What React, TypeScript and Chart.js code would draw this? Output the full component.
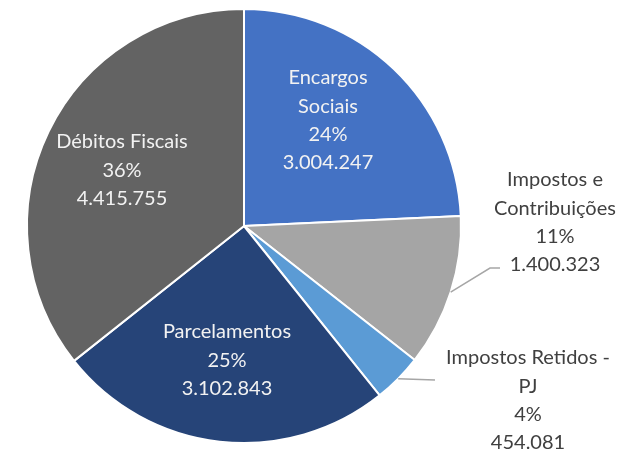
import React, { useEffect, useRef } from "react";
import { Chart, registerables } from "chart.js";

Chart.register(...registerables);

const categories = [
  "Encargos Sociais",
  "Impostos e Contribuições",
  "Impostos Retidos - PJ",
  "Parcelamentos",
  "Débitos Fiscais",
];
const labelLines = [
  ["Encargos", "Sociais"],
  ["Impostos e", "Contribuições"],
  ["Impostos Retidos -", "PJ"],
  ["Parcelamentos"],
  ["Débitos Fiscais"],
];
const values = [3004247, 1400323, 454081, 3102843, 4415755];
const colors = ["#4472C4", "#A5A5A5", "#5B9BD5", "#264478", "#636363"];

// label layout (style): offset of first line relative to pie center, outside flag
const labelPos = [
  { dx: 84, dy: -148, outside: false },
  { dx: 311, dy: -46, outside: true },
  { dx: 284, dy: 132, outside: true },
  { dx: -17, dy: 106, outside: false },
  { dx: -122, dy: -84, outside: false },
];
const leaderEnds: ({ x: number; y: number }[] | null)[] = [
  null,
  [{ x: 246, y: 42 }, { x: 256, y: 42 }],
  [{ x: 191, y: 154 }],
  null,
  null,
];

const fmt = (v: number) => v.toString().replace(/\B(?=(\d{3})+(?!\d))/g, ".");

const labelPlugin = {
  id: "pieLabels",
  afterDatasetsDraw(chart: any) {
    const ctx = chart.ctx;
    const meta = chart.getDatasetMeta(0);
    const total = values.reduce((a, b) => a + b, 0);
    const lh = 28.3;
    ctx.save();
    meta.data.forEach((arc: any, i: number) => {
      const { x, y, outerRadius, startAngle, endAngle } = arc.getProps(
        ["x", "y", "outerRadius", "startAngle", "endAngle"],
        true
      );
      const pos = labelPos[i];
      const lines = [
        ...labelLines[i],
        Math.round((values[i] / total) * 100) + "%",
        fmt(values[i]),
      ];
      if (leaderEnds[i]) {
        const mid = (startAngle + endAngle) / 2;
        const sx = x + Math.cos(mid) * outerRadius;
        const sy = y + Math.sin(mid) * outerRadius;
        ctx.beginPath();
        ctx.strokeStyle = "#A6A6A6";
        ctx.lineWidth = 1.5;
        ctx.moveTo(sx, sy);
        (leaderEnds[i] as any[]).forEach((p) => ctx.lineTo(x + p.x, y + p.y));
        ctx.stroke();
      }
      ctx.fillStyle = pos.outside ? "#404040" : "#F2F2F2";
      ctx.font = "20px Lato, 'Open Sans', sans-serif";
      ctx.textAlign = "center";
      ctx.textBaseline = "middle";
      lines.forEach((t, k) => {
        ctx.fillText(t, x + pos.dx, y + pos.dy + k * lh);
      });
    });
    ctx.restore();
  },
};

export default function App() {
  const ref = useRef<HTMLCanvasElement>(null);
  useEffect(() => {
    document.body.style.margin = "0";
    const chart = new Chart(ref.current!, {
      type: "pie",
      data: {
        labels: categories,
        datasets: [
          {
            data: values,
            backgroundColor: colors,
            borderColor: "#FFFFFF",
            borderWidth: 2,
          },
        ],
      },
      options: {
        animation: false,
        responsive: false,
        maintainAspectRatio: false,
        layout: { padding: { left: 26, right: 168, top: 8, bottom: 9 } },
        plugins: {
          legend: { display: false },
          tooltip: { enabled: false },
        },
      },
      plugins: [labelPlugin],
    });
    return () => chart.destroy();
  }, []);
  return (
    <div style={{ width: 630, height: 453, background: "#fff" }}>
      <canvas ref={ref} width={630} height={453} />
    </div>
  );
}
